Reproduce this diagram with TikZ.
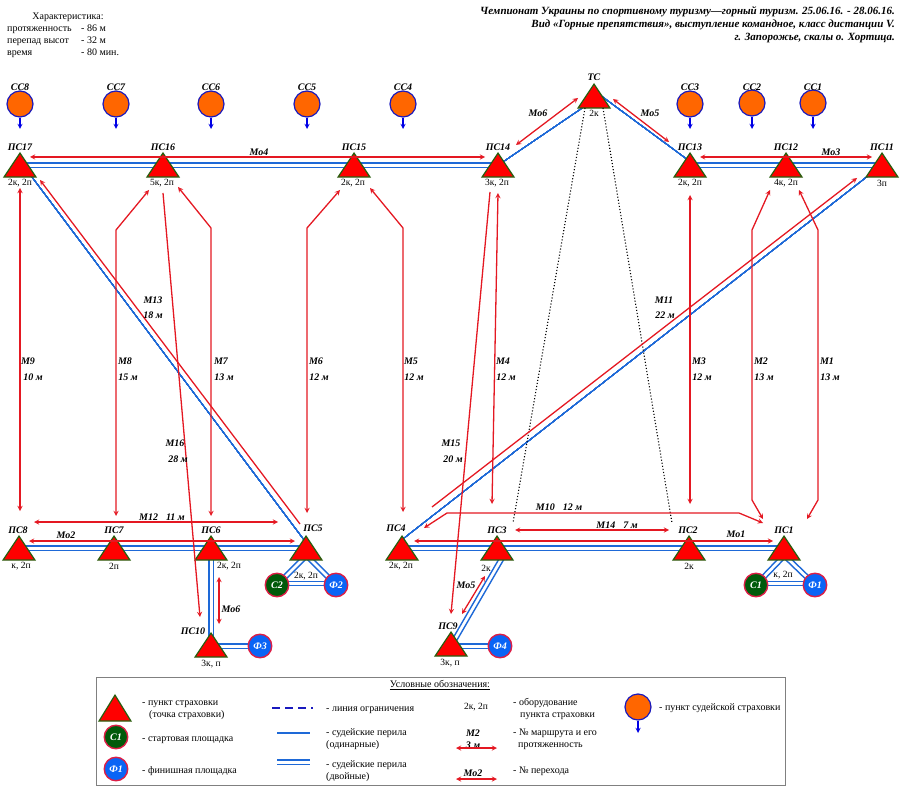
\documentclass[tikz,border=0pt]{standalone}
\usepackage{fontspec}
\setmainfont{Liberation Serif}
\usetikzlibrary{shapes.geometric,backgrounds,calc}
\definecolor{ptred}{RGB}{255,0,0}
\definecolor{ptedge}{RGB}{40,95,15}
\definecolor{routered}{RGB}{228,24,34}
\definecolor{railblue}{RGB}{30,105,215}
\definecolor{ssorange}{RGB}{255,102,0}
\definecolor{ssblue}{RGB}{25,25,190}
\definecolor{padgreen}{RGB}{0,90,10}
\definecolor{padblue}{RGB}{10,100,245}
\definecolor{padedge}{RGB}{220,30,70}
\tikzset{
	pspoint/.style={isosceles triangle,isosceles triangle apex angle=67.4,isosceles triangle stretches,shape border rotate=90,minimum width=32pt,minimum height=24pt,inner sep=0pt,anchor=apex,fill=ptred,draw=ptedge,line width=1.2pt},
	sspoint/.style={circle,minimum size=26pt,inner sep=0pt,fill=ssorange,draw=ssblue,line width=1.2pt},
	ssarrow/.style={->,draw=blue!90!black,line width=1.3pt},
	padnode/.style={circle,minimum size=23.5pt,inner sep=0pt,line width=1.4pt,draw=padedge,text=white,font=\fontsize{10}{12}\selectfont\bfseries\itshape},
	startpad/.style={padnode,fill=padgreen},
	finishpad/.style={padnode,fill=padblue},
	ptname/.style={inner sep=0pt,font=\fontsize{10}{12}\selectfont\bfseries\itshape},
	equiptext/.style={inner sep=0pt,font=\fontsize{9.5}{11}\selectfont},
	legtext/.style={inner sep=0pt,anchor=base west,font=\fontsize{10}{12}\selectfont},
	headtext/.style={inner sep=0pt,anchor=east,font=\fontsize{11}{13}\selectfont\bfseries\itshape},
	route/.style={draw=routered,line width=1.3pt},
	rope/.style={draw=railblue,line width=.8pt},
	legrope/.style={draw=railblue,line width=1.3pt},
}
\def\ropepair#1#2{
	\draw[rope,line width=1.4pt] ($(#1)!2.2pt!90:(#2)$) -- ($(#2)!2.2pt!-90:(#1)$);
	\draw[rope,line width=1.4pt] ($(#1)!2.2pt!-90:(#2)$) -- ($(#2)!2.2pt!90:(#1)$);
}
\begin{document}
\begin{tikzpicture}[>=stealth,x=1pt,y=-1pt]
	\useasboundingbox (0,0) rectangle (900,786);
	% title and characteristics
	\node[inner sep=0pt,font=\fontsize{10}{12}\selectfont] (harakt) at (68,17) {Характеристика:};
	\foreach \n/\y/\t/\v in {len/32/протяженность/{- 86 м},drop/44/перепад высот/{- 32 м},time/56/время/{- 80 мин.}}{
		\node[legtext] (\n) at (7,\y) {\t};
		\node[legtext] (\n-v) at (81,\y) {\v};
	}
	\node[headtext] (head1) at (895,12) {Чемпионат Украины по спортивному туризму—горный туризм. 25.06.16. - 28.06.16.};
	\node[headtext] (head2) at (895,25) {Вид «Горные препятствия», выступление командное, класс дистанции V.};
	\node[headtext] (head3) at (895,38) {г. Запорожье, скалы о. Хортица.};
	% points of the upper row
	\foreach \n/\x/\t/\s/\sx in {ps17/20/ПС17/{2к, 2п}/20,ps16/163/ПС16/{5к, 2п}/162,ps15/354/ПС15/{2к, 2п}/353,ps14/498/ПС14/{3к, 2п}/497,ps13/690/ПС13/{2к, 2п}/690,ps12/786/ПС12/{4к, 2п}/786,ps11/882/ПС11/3п/882}{
		\node[pspoint] (\n) at (\x,152) {};
		\coordinate (\n-r) at (\x,165.3);
		\node[ptname] (\n-t) at (\x,147) {\t};
		\node[equiptext] (\n-s) at (\sx,183) {\s};
	}
	% points of the lower row
	\foreach \n/\x/\t/\tx/\ty/\s/\sx in {ps8/19/ПС8/18/530/{к, 2п}/21,ps7/114/ПС7/114/530/2п/114,ps6/211/ПС6/211/530/{2к, 2п}/229,ps5/306/ПС5/313/528/{}/306,ps4/402/ПС4/396/528/{2к, 2п}/401,ps3/497/ПС3/497/530/{}/497,ps2/689/ПС2/688/530/2к/689,ps1/784/ПС1/784/530/{}/784}{
		\node[pspoint] (\n) at (\x,535) {};
		\coordinate (\n-r) at (\x,548);
		\node[ptname] (\n-t) at (\tx,\ty) {\t};
		\node[equiptext] (\n-s) at (\sx,566) {\s};
	}
	\node[pspoint] (tc) at (594,83) {};
	\node[ptname] (tc-t) at (594,77) {ТС};
	\node[equiptext] (tc-s) at (594,113) {2к};
	\node[pspoint] (ps10) at (211,632) {};
	\coordinate (ps10-r) at (211,646);
	\node[ptname] (ps10-t) at (193,631) {ПС10};
	\node[equiptext] (ps10-s) at (211,664) {3к, п};
	\node[pspoint] (ps9) at (451,631) {};
	\coordinate (ps9-r) at (451,646);
	\node[ptname] (ps9-t) at (448,626) {ПС9};
	\node[equiptext] (ps9-s) at (450,663) {3к, п};
	\node[equiptext] (ps3-k) at (486,568) {2к};
	\node[equiptext] (ps5-k) at (306,576) {2к, 2п};
	\node[equiptext] (ps1-k) at (783,575) {к, 2п};
	% judges' points
	\foreach \n/\x/\t/\y in {ss8/20/СС8/104,ss7/116/СС7/104,ss6/211/СС6/104,ss5/307/СС5/104,ss4/403/СС4/104,ss3/690/СС3/104,ss2/752/СС2/103,ss1/813/СС1/103}{
		\node[sspoint] (\n) at (\x,\y) {};
		\node[ptname] (\n-t) at (\x,87) {\t};
		\coordinate (\n-a) at (\x,129);
		\draw[ssarrow] (\n) -- (\n-a);
	}
	% pads
	\node[startpad] (c2) at (277,585) {С2};
	\node[finishpad] (f2) at (336,585) {Ф2};
	\node[startpad] (c1) at (756,585) {С1};
	\node[finishpad] (f1) at (815,585) {Ф1};
	\node[finishpad] (f3) at (260,646) {Ф3};
	\node[finishpad] (f4) at (500,646) {Ф4};
	% free ends
	\foreach \n/\p in {bl17/{23,165},bl5/{304,540},bl11/{873,172},bl4/{399,542},tcb/{594,100},tcr/{600,95},rs13/{688,160},
		l5/{304,558},r5/{309,558},l1/{782,558},r1/{787,558},r3/{505,553},rp1/{277,583.5},rp2/{336,583.5},rp3/{756,583.5},rp4/{815,583.5},
		dl1/{585,108},dl2/{513,523},dr1/{603,108},dr2/{672,523},
		m9a/{20,188},m9b/{20,511},m8a/{149,190},m8k/{116,230},m8b/{116,516},
		m7a/{178,187},m7k/{211,228},m7b/{211,516},m6a/{340,190},m6k/{307,228},m6b/{307,513},
		m5a/{370,188},m5k/{403,228},m5b/{403,512},m4a/{498,193},m4b/{492,504},m3a/{690,195},m3b/{690,504},
		m2a/{770,190},m2k/{752,230},m2l/{752,500},m2b/{763,519},m1a/{799,190},m1k/{818,230},m1l/{818,500},m1b/{807,519},
		m13a/{40,180},m13b/{300,524},m11a/{857,178},m11b/{432,507},m15a/{490,192},m15b/{451,614},m16a/{163,193},m16b/{200,617},
		m12a/{34,522},m12b/{278,522},m14a/{515,530},m14b/{669,530},
		m10a/{424,528},m10k/{447,513},m10l/{739,513},m10b/{763,523},
		mo1a/{414,541},mo1b/{773,541},mo2a/{29,541},mo2b/{295,541},mo3a/{700,157},mo3b/{872,157},mo4a/{30,157},mo4b/{485,157},
		mo5a/{613,99},mo5b/{669,142},mo6a/{578,98},mo6b/{516,145},mo5da/{485,576},mo5db/{462,614},mo6da/{219,577},mo6db/{219,624}}
		\coordinate (\n) at (\p);
	% judges' ropes
	\begin{scope}[on background layer]
		\foreach \a/\b in {ps17-r/ps16-r,ps16-r/ps15-r,ps15-r/ps14-r,ps13-r/ps12-r,ps12-r/ps11-r,ps8-r/ps7-r,ps7-r/ps6-r,ps6-r/ps5-r,ps4-r/ps3-r,ps3-r/ps2-r,ps2-r/ps1-r,ps6-r/ps10-r,rp1/rp2,rp3/rp4,r3/ps9-r,l5/c2,r5/f2,l1/c1,r1/f1,f3/ps10-r,f4/ps9-r}
			\ropepair{\a}{\b}
		\foreach \a/\b in {bl17/bl5,bl11/bl4,ps14-r/tcb,tcr/rs13}
			\draw[rope] (\a) -- (\b);
	\end{scope}
	% limit lines
	\draw[dotted,line width=1.1pt] (dl1) -- (dl2);
	\draw[dotted,line width=1.1pt] (dr1) -- (dr2);
	% routes
	\foreach \a/\b in {m9a/m9b,m4a/m4b,m3a/m3b,m12a/m12b,m14a/m14b,mo1a/mo1b,mo2a/mo2b,mo3a/mo3b,mo4a/mo4b,mo5a/mo5b,mo6a/mo6b,mo5da/mo5db,mo6da/mo6db}
		\draw[route,<->] (\a) -- (\b);
	\foreach \a/\k/\b in {m8a/m8k/m8b,m7a/m7k/m7b,m6a/m6k/m6b,m5a/m5k/m5b}
		\draw[route,<->] (\a) -- (\k) -- (\b);
	\draw[route,<->] (m2a) -- (m2k) -- (m2l) -- (m2b);
	\draw[route,<->] (m1a) -- (m1k) -- (m1l) -- (m1b);
	\draw[route,<->] (m10a) -- (m10k) -- (m10l) -- (m10b);
	\draw[route,<-] (m13a) -- (m13b);
	\draw[route,<-] (m11a) -- (m11b);
	\draw[route,->] (m15a) -- (m15b);
	\draw[route,->] (m16a) -- (m16b);
	% route labels
	\foreach \n/\x/\t/\xx/\l in {m9t/28/М9/33/{10 м},m8t/125/М8/128/{15 м},m7t/221/М7/224/{13 м},m6t/316/М6/319/{12 м},m5t/411/М5/414/{12 м},m4t/503/М4/506/{12 м},m3t/699/М3/702/{12 м},m2t/761/М2/764/{13 м},m1t/827/М1/830/{13 м}}{
		\node[ptname] (\n) at (\x,361) {\t};
		\node[ptname] (\n-l) at (\xx,377) {\l};
	}
	\foreach \n/\x/\y/\t in {m13t/153/300/М13,m13l/153/315/{18 м},m16t/175/443/М16,m16l/178/459/{28 м},m15t/451/443/М15,m15l/453/459/{20 м},m11t/664/300/М11,m11l/665/315/{22 м},
		m12t/162/517/{М12\hspace{8pt}11 м},m14t/617/525/{М14\hspace{8pt}7 м},m10t/559/507/{М10\hspace{8pt}12 м},
		mo1t/736/534/Мо1,mo2t/66/535/Мо2,mo3t/831/152/Мо3,mo4t/259/152/Мо4,mo5t/650/113/Мо5,mo6t/538/113/Мо6,mo5dt/466/585/Мо5,mo6dt/231/609/Мо6}
		\node[ptname] (\n) at (\x,\y) {\t};
	% legend
	\draw[gray,line width=1pt] (96,677) rectangle (785,785);
	\node[inner sep=0pt,font=\fontsize{10}{12}\selectfont] (legtitle) at (440,685) {\underline{Условные обозначения:}};
	\node[pspoint,minimum height=26pt] (legpt) at (115,694) {};
	\node[startpad] (legc) at (116,737) {С1};
	\node[finishpad] (legf) at (116,769) {Ф1};
	\node[sspoint] (legss) at (638,707) {};
	\coordinate (legss-a) at (638,733);
	\draw[ssarrow] (legss) -- (legss-a);
	\node[equiptext] (legk) at (476,707) {2к, 2п};
	\node[ptname] (legm) at (473,733) {М2};
	\node[ptname] (legl) at (473,745) {3 м};
	\node[ptname] (legmo) at (473,773) {Мо2};
	\foreach \n/\p in {lda/{272,708},ldb/{313,708},lsa/{277,733},lsb/{310,733},lwa/{277,762},lwb/{310,762},lma/{456,748},lmb/{497,748},loa/{456,779},lob/{497,779}}
		\coordinate (\n) at (\p);
	\draw[legrope,draw=ssblue,dash pattern=on 8pt off 5pt] (lda) -- (ldb);
	\draw[legrope] (lsa) -- (lsb);
	\ropepair{lwa}{lwb}
	\draw[route,<->] (lma) -- (lmb);
	\draw[route,<->] (loa) -- (lob);
	\foreach \n/\x/\y/\t in {lt1/142/705/{- пункт страховки},lt2/149/717/{(точка страховки)},lt3/142/741/{- стартовая площадка},lt4/142/773/{- финишная площадка},
		lt5/326/711/{- линия ограничения},lt6/326/735/{- судейские перила},lt7/326/747/{(одинарные)},lt8/326/767/{- судейские перила},lt9/326/779/{(двойные)},
		lt10/513/705/{- оборудование},lt11/520/717/{пункта страховки},lt12/513/735/{- № маршрута и его},lt13/518/747/{протяженность},lt14/513/773/{- № перехода},lt15/659/710/{- пункт судейской страховки}}
		\node[legtext] (\n) at (\x,\y) {\t};
\end{tikzpicture}
\end{document}
